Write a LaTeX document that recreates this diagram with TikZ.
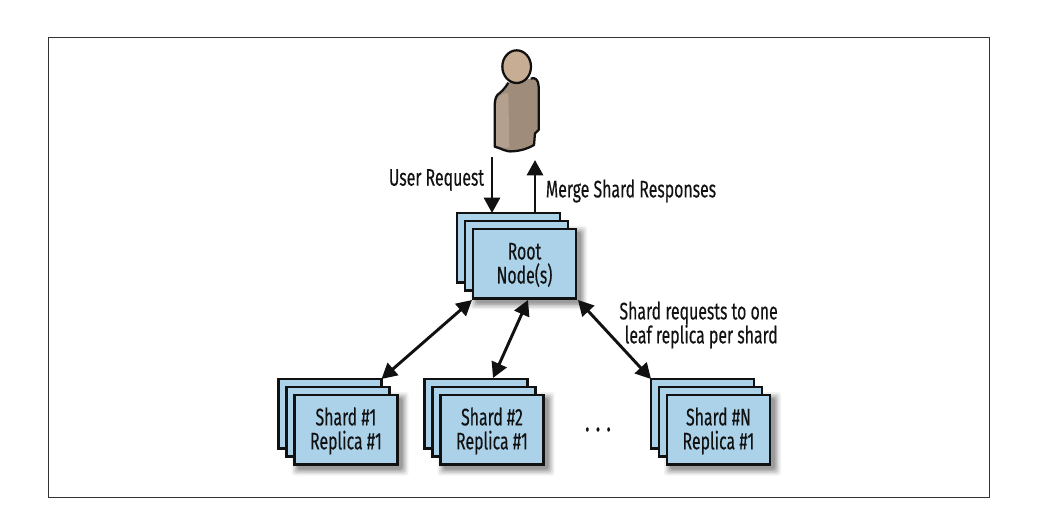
\documentclass[tikz,border=0pt]{standalone}
\usepackage{fontspec}
\setmainfont[FakeStretch=0.66,FakeBold=0.25]{Fira Sans}
\usetikzlibrary{arrows.meta}
\definecolor{boxblue}{HTML}{ABD2E9}
\definecolor{ink}{HTML}{111111}
\definecolor{personbody}{HTML}{A08C7A}
\definecolor{personlight}{HTML}{B3A08F}
\definecolor{personhead}{HTML}{C7AD93}
\tikzset{
  plate/.style={draw=ink,line width=2.4pt*0.75,fill=boxblue,minimum width=103*0.75pt,minimum height=69.5*0.75pt,inner sep=0pt,outer sep=0pt,anchor=north west},
  txt/.style={inner sep=0pt,align=center,text=ink,font=\fontsize{18pt}{18pt}\selectfont},
  boxtext/.style={txt,align=center},
  conn/.style={draw=ink,line width=2.2pt,-{Triangle[length=11.5pt,width=12pt]}},
  biconn/.style={draw=ink,line width=2.2pt,{Triangle[length=11.5pt,width=12pt]}-{Triangle[length=11.5pt,width=12pt]}}
}
\newcommand{\softshadow}[2]{%
  \foreach \g/\o in {7/.05,5.5/.07,4/.09,2.5/.11,1/.13}{%
    \fill[black,opacity=\o,rounded corners=2pt] (#1+16+4-\g,#2+16+4-\g) rectangle (#1+16+103+4+\g,#2+16+69.5+4+\g);
  }}
\newcommand{\stackbox}[4]{%
  \softshadow{#2}{#3}
  \node[plate] (#1b) at (#2,#3) {};
  \node[plate] (#1m) at (#2+8,#3+8) {};
  \node[plate] (#1f) at (#2+16,#3+16) {};
  \node[boxtext,yshift=-0.9pt] (#1t) at (#1f.center) {#4};
}
\begin{document}
\begin{tikzpicture}[x=0.75pt,y=-0.75pt]
\useasboundingbox (0,0) rectangle (1038,509);
\fill[white] (0,0) rectangle (1038,509);
\node[draw=black!80,line width=1pt,minimum width=941*0.75pt,minimum height=460*0.75pt,inner sep=0pt,anchor=north west] (frame) at (48,37) {};
% person
\begin{scope}[shift={(380,30)},x=0.25pt,y=-0.25pt]
  \path[fill=personbody] (385,158)
    .. controls (375,175) and (365,185) .. (352,195)
    .. controls (345,205) and (344,215) .. (344,235)
    -- (344,350)
    .. controls (365,355) and (375,366) .. (398,364)
    .. controls (425,362) and (445,355) .. (462,345)
    -- (465,310) -- (476,300) -- (476,170)
    .. controls (476,150) and (465,140) .. (452,146)
    -- cycle;
  \fill[personlight] (348,225) .. controls (348,205) and (365,185) .. (385,190) -- (388,352) .. controls (375,356) and (360,350) .. (348,347) -- cycle;
  \path[draw=ink,line width=1.7pt,line join=round] (385,158)
    .. controls (375,175) and (365,185) .. (352,195)
    .. controls (345,205) and (344,215) .. (344,235)
    -- (344,350)
    .. controls (365,355) and (375,366) .. (398,364)
    .. controls (425,362) and (445,355) .. (462,345)
    -- (465,310) -- (476,300) -- (476,170)
    .. controls (476,150) and (465,140) .. (452,146);
  \filldraw[fill=personhead,draw=ink,line width=1.7pt] (410,110) ellipse [x radius=43,y radius=49];
\end{scope}
% stacks
\stackbox{root}{457}{213}{Root\\Node(s)}
\stackbox{sa}{278.5}{379}{Shard \#1\\Replica \#1}
\stackbox{sb}{424.5}{379}{Shard \#2\\Replica \#1}
\stackbox{sn}{651}{379}{Shard \#N\\Replica \#1}
% free ends
\coordinate (userout) at (492,157);
\coordinate (rootin) at (492,213);
\coordinate (rootout) at (535,213);
\coordinate (userin) at (535,160);
\coordinate (r1) at (472,300);
\coordinate (r2) at (528,300);
\coordinate (r3) at (578,300);
\coordinate (s2top) at (493,378);
\draw[conn] (userout) -- (rootin);
\draw[conn] (rootout) -- (userin);
\draw[biconn] (r1) -- (sab.north east);
\draw[biconn] (r2) -- (s2top);
\draw[biconn] (r3) -- (snb.north west);
% labels
\node[txt] (lu) at (436.5,180) {User Request};
\node[txt] (lm) at (631,191) {Merge Shard Responses};
\node[txt,align=right,anchor=east] (ls) at (778,325) {Shard requests to one\\leaf replica per shard};
\node[txt,font=\fontsize{22pt}{22pt}\selectfont] (dots) at (598,429.5) {.\hspace{4.5pt}.\hspace{4.5pt}.};
\end{tikzpicture}
\end{document}
